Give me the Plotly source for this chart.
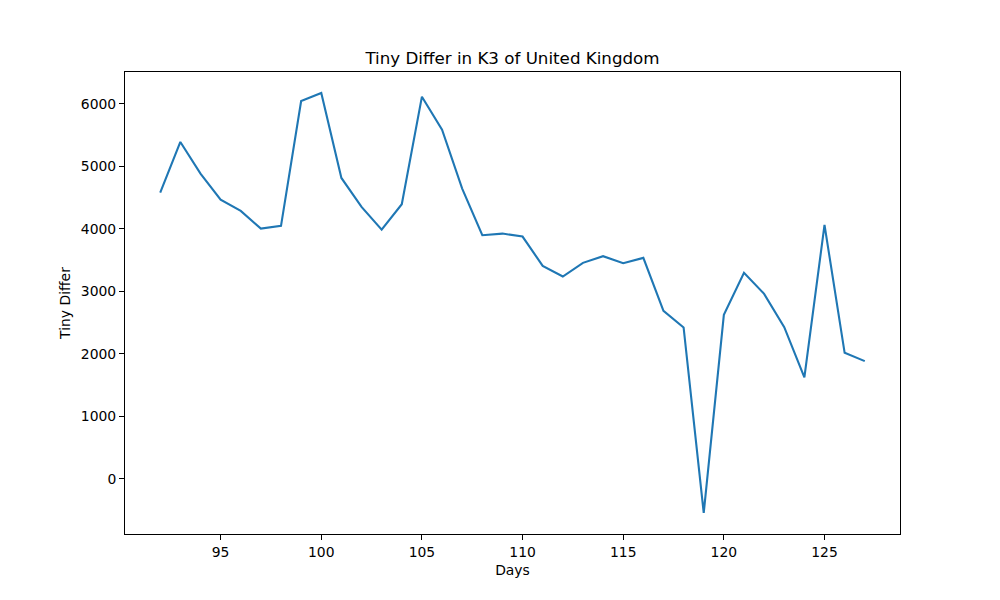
import plotly.graph_objects as go

days = list(range(92, 128))
values = [4581, 5392, 4885, 4469, 4288, 4005, 4048, 6048, 6176, 4816,
          4352, 3989, 4395, 6117, 5589, 4645, 3899, 3925, 3877, 3408,
          3237, 3456, 3563, 3451, 3536, 2688, 2421, -549, 2624, 3296,
          2960, 2427, 1621, 4064, 2016, 1883]

x_ticks = [95, 100, 105, 110, 115, 120, 125]
y_ticks = [0, 1000, 2000, 3000, 4000, 5000, 6000]

xpad = (max(days) - min(days)) * 0.05
ypad = (max(values) - min(values)) * 0.05

fig = go.Figure()
fig.add_trace(go.Scatter(x=days, y=values, mode="lines",
                         line=dict(color="#1f77b4", width=2.1)))

axis_common = dict(showgrid=False, zeroline=False, showline=True, linecolor="black",
                   linewidth=1, mirror=True, ticks="outside", ticklen=5,
                   tickcolor="black", tickwidth=1,
                   tickfont=dict(family="DejaVu Sans", size=13.9, color="black"))

fig.update_layout(
    width=1000, height=600,
    paper_bgcolor="white", plot_bgcolor="white",
    margin=dict(l=117, r=108, t=64, b=74),
    showlegend=False,
    title=dict(text="Tiny Differ in K3 of United Kingdom", x=(117 + 387.5) / 1000, xanchor="center",
               y=1 - 50 / 600, yanchor="middle",
               font=dict(family="DejaVu Sans", size=16.7, color="black")),
    xaxis=dict(range=[min(days) - xpad, max(days) + xpad], tickvals=x_ticks,
               title=dict(text="Days", font=dict(family="DejaVu Sans", size=13.9, color="black"),
                          standoff=6),
               **axis_common),
    yaxis=dict(range=[min(values) - ypad, max(values) + ypad], tickvals=y_ticks,
               title=dict(text="Tiny Differ", font=dict(family="DejaVu Sans", size=13.9, color="black"),
                          standoff=6),
               **axis_common),
)

fig.write_html("out.html")
